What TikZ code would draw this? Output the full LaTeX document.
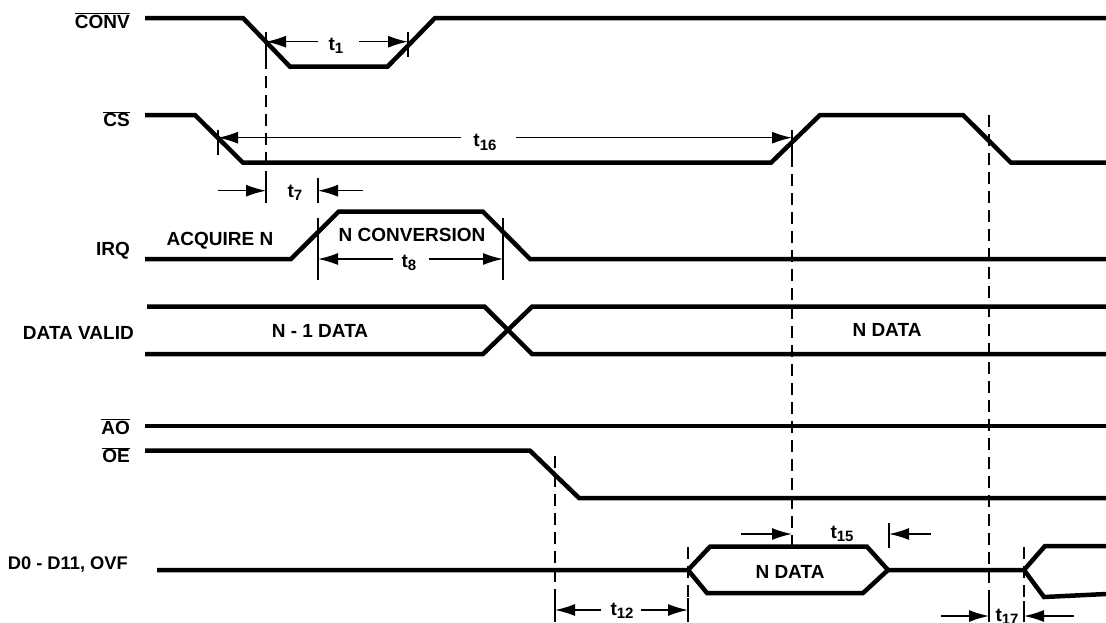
\documentclass[tikz,border=0pt]{standalone}
\usepackage{fontspec}
\setmainfont{Liberation Sans}
\usetikzlibrary{arrows.meta}
\newcommand{\ovl}[1]{$\overline{\mbox{#1}}$}
\newcommand{\tsub}[1]{t\raisebox{-3.5pt}{\fontsize{15}{15}\selectfont #1}}
\tikzset{
  sig/.style={line width=4.5pt, line join=miter, line cap=butt},
  dimarrow/.style={line width=1.5pt, -{Latex[length=20pt,width=12pt]}},
  tickline/.style={line width=1.6pt},
  dsh/.style={line width=1.6pt, dash pattern=on 12pt off 7pt},
  siglabel/.style={font=\bfseries\fontsize{19}{19}\selectfont, anchor=base east, inner sep=0pt},
  txt/.style={font=\bfseries\fontsize{19}{19}\selectfont, anchor=base, inner sep=0pt},
}
\begin{document}
\begin{tikzpicture}[x=1pt,y=-1pt]
\useasboundingbox (0,0) rectangle (1106,622);

% signal labels
\node[siglabel] (lconv) at (130,28.3) {\ovl{CONV}};
\node[siglabel] (lcs) at (130,126.7) {\ovl{CS}};
\node[siglabel] (lirq) at (130,255.5) {IRQ};
\node[siglabel] (ldv) at (134,339) {DATA VALID};
\node[siglabel] (lao) at (130,434) {\ovl{AO}};
\node[siglabel] (loe) at (130,462.7) {\ovl{OE}};
\node[siglabel, font=\bfseries\fontsize{18.3}{18.3}\selectfont] (ld) at (128,569.3) {D0 - D11, OVF};

% signals
\draw[sig] (145,18) -- (243,18) -- (290,66.7) -- (387.5,66.7) -- (435,18) -- (1106,18);
\draw[sig] (145,115) -- (195,115) -- (243,162.7) -- (771,162.7) -- (820,115) -- (963,115) -- (1011,162.7) -- (1106,162.7);
\draw[sig] (145,259) -- (291,259) -- (338.6,211.7) -- (483,211.7) -- (530,259) -- (1106,259);
\draw[sig] (147,306.7) -- (484.6,306.7) -- (532,354) -- (1106,354);
\draw[sig] (145,354) -- (483,354) -- (532,306.7) -- (1106,306.7);
\draw[sig] (145,426) -- (1106,426);
\draw[sig] (145,450.7) -- (530,450.7) -- (579,498) -- (1106,498);
\draw[sig] (157,570) -- (688,570) -- (710,546.7) -- (867,546.7) -- (888,570) -- (863,593) -- (707,593) -- (688,570);
\draw[sig] (888,570) -- (1024,570) -- (1045,546) -- (1106,546);
\draw[sig] (1024,570) -- (1044,597) -- (1106,594);

% inline texts
\node[txt] (acq) at (220,245) {ACQUIRE N};
\node[txt] (nconv) at (412,241.7) {N CONVERSION};
\node[txt] (nm1) at (320,337.7) {N - 1 DATA};
\node[txt] (ndata) at (887,336.7) {N DATA};
\node[txt] (ndatab) at (790,578.5) {N DATA};

% dashed reference lines
\draw[dsh] (266,57) -- (266,178);
\draw[dsh] (792,155) -- (792,546);
\draw[dsh] (989,115) -- (989,601);
\draw[dsh] (555,456) -- (555,598);
\draw[dsh] (688,547) -- (688,598);
\draw[dsh] (1024,547) -- (1024,601);

% ticks
\draw[tickline] (266,32) -- (266,57);
\draw[tickline] (408,32) -- (408,57);
\draw[tickline] (218,130) -- (218,155);
\draw[tickline] (792,130) -- (792,155);
\draw[tickline] (266,178) -- (266,203);
\draw[tickline] (318,178) -- (318,203);
\draw[tickline] (318,218) -- (318,280);
\draw[tickline] (503,218) -- (503,280);
\draw[tickline] (555,598) -- (555,622);
\draw[tickline] (688,598) -- (688,622);
\draw[tickline] (889,523) -- (889,548);
\draw[tickline] (989,601) -- (989,622);
\draw[tickline] (1024,601) -- (1024,622);

% t1
\node[txt] (t1) at (336,50) {\tsub{1}};
\draw[dimarrow] (318,41.7) -- (266,41.7);
\draw[dimarrow] (359,41.7) -- (408,41.7);
% t16
\node[txt] (t16) at (485,146.7) {\tsub{16}};
\draw[dimarrow] (461,137.7) -- (218,137.7);
\draw[dimarrow] (516,137.7) -- (792,137.7);
% t7
\node[txt] (t7) at (295,197) {\tsub{7}};
\draw[dimarrow] (218,190.7) -- (266,190.7);
\draw[dimarrow] (363,190.7) -- (318,190.7);
% t8
\node[txt] (t8) at (409,267) {\tsub{8}};
\draw[dimarrow] (393,259) -- (318,259);
\draw[dimarrow] (429,259) -- (503,259);
% t12
\node[txt] (t12) at (622,615) {\tsub{12}};
\draw[dimarrow] (601,610) -- (555,610);
\draw[dimarrow] (641,610) -- (688,610);
% t15
\node[txt] (t15) at (842,538) {\tsub{15}};
\draw[dimarrow] (741,534) -- (792,534);
\draw[dimarrow] (931,534) -- (889,534);
% t17
\node[txt] (t17) at (1007,621) {\tsub{17}};
\draw[dimarrow] (941,616) -- (989,616);
\draw[dimarrow] (1074,616) -- (1024,616);
\end{tikzpicture}
\end{document}
